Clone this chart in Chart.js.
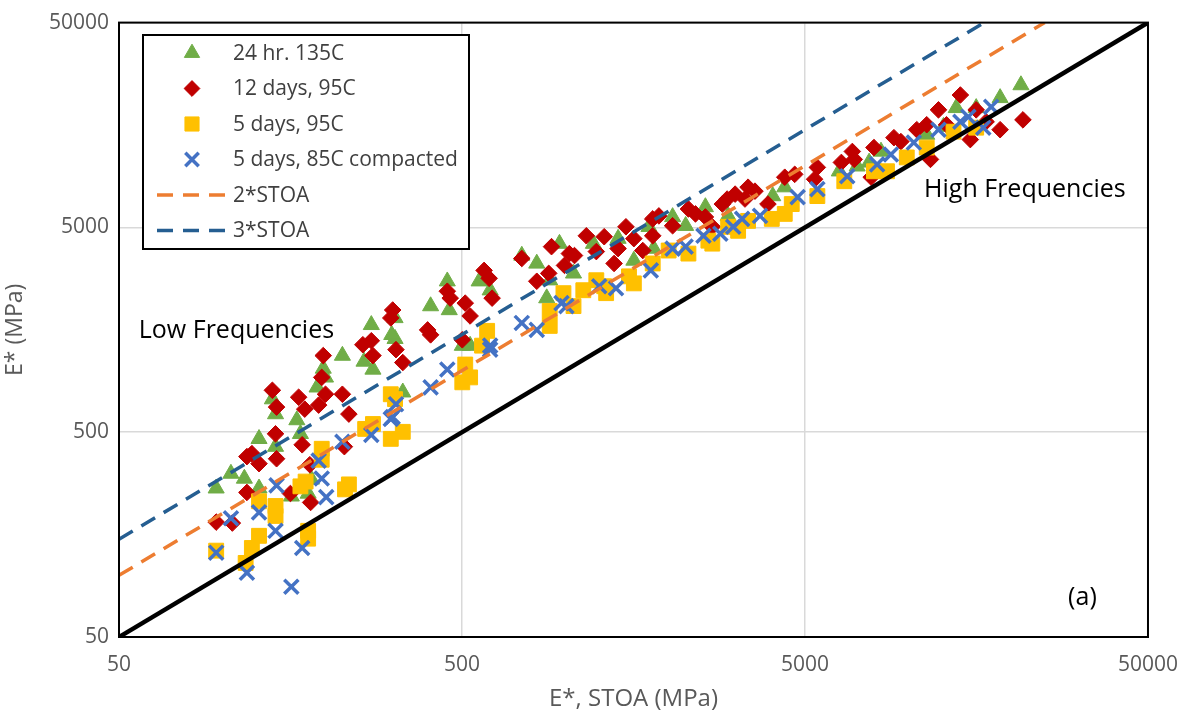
<!DOCTYPE html>
<html>
<head>
<meta charset="utf-8">
<script src="https://cdn.jsdelivr.net/npm/chart.js@4.4.1/dist/chart.umd.min.js"></script>
<style>
  html, body { margin: 0; padding: 0; background: #fff; }
</style>
</head>
<body>
<canvas id="chart" width="1193" height="715"></canvas>
<script>
// [E* STOA, E*] pairs (MPa)
const green135 = [[96,266],[106,314],[116,297],[128,464],[128,266],[140,725],[143,613],[143,425],[165,573],[169,491],[159,243],[178,251],[182,294],[189,828],[197,1023],[200,926],[224,1183],[259,1107],[275,1012],[272,1671],[319,1429],[319,1806],[312,1494],[336,783],[405,2064],[453,2729],[459,1975],[501,1323],[528,1323],[561,2729],[604,2467],[747,3643],[826,3333],[962,4165],[1057,2982],[901,2760],[883,2257],[1208,4165],[1426,4406],[1585,3445],[1754,5035],[1811,3940],[2244,5093],[2562,6288],[2056,5623],[2985,5689],[4027,7112],[4365,7859],[6295,9397],[7097,9931],[7691,10380],[8329,11740],[11320,14190],[12670,15510],[13800,19160],[15780,19160],[18530,21430],[21310,24770]];

const red12 = [[96,182],[107,180],[118,380],[122,393],[128,351],[118,254],[140,801],[144,663],[143,491],[144,371],[158,251],[167,741],[174,648],[171,434],[180,347],[181,227],[197,1183],[195,926],[200,766],[191,678],[224,766],[234,613],[227,425],[272,1398],[257,1337],[275,1183],[314,1975],[310,1806],[321,1265],[336,1094],[397,1579],[405,1494],[453,2440],[462,2257],[511,2134],[528,1847],[501,1413],[580,3083],[600,2820],[612,2257],[747,3525],[826,2729],[895,2982],[995,3261],[912,4027],[1028,3725],[1064,3643],[1152,4550],[1232,3810],[1299,4503],[1388,3333],[1426,3940],[1503,5035],[1585,4406],[1683,3855],[1799,5502],[1875,5689],[1799,4550],[2056,5093],[2286,6152],[2397,5820],[2562,5623],[2684,5035],[2871,6500],[2965,6877],[3128,7270],[3342,6877],[3574,7516],[3899,6500],[3412,7859],[4365,8790],[4667,9080],[5433,9817],[5333,8590],[6383,10380],[6871,11740],[6960,10740],[7798,8790],[7943,12270],[9083,13710],[9517,13120],[10590,15000],[11320,15860],[12250,18750],[14190,22150],[12930,15860],[15170,13420],[18530,15000],[21600,16750],[11610,10740],[16870,16400],[15780,18750]];

const yellow5 = [[96,132],[117,115],[122,136],[128,156],[128,230],[143,218],[143,195],[169,272],[175,287],[178,165],[178,151],[195,415],[195,367],[228,263],[234,278],[261,519],[275,548],[310,766],[319,725],[310,464],[336,502],[501,876],[511,1070],[528,926],[572,1323],[592,1563],[901,1953],[901,1652],[988,2387],[1057,2064],[1129,2467],[1232,2760],[1299,2580],[1316,2387],[1534,2884],[1585,2665],[1799,3333],[2002,3855],[2286,3725],[2614,4307],[2684,4165],[2985,5035],[3192,4814],[3412,5380],[4001,5502],[4365,5820],[4575,6500],[5433,7112],[6510,8403],[7943,9397],[8670,9397],[9902,10980],[11320,12270],[13550,14670],[15780,15340]];

const blue85 = [[96,129],[118,103],[159,88],[143,165],[128,203],[106,190],[171,136],[144,275],[195,297],[201,241],[191,363],[224,449],[272,485],[310,580],[321,685],[314,593],[405,828],[453,1012],[604,1323],[604,1265],[747,1708],[826,1579],[975,2133],[1008,2064],[1256,2580],[1406,2523],[1776,3083],[2056,3940],[2244,4027],[2529,4550],[2832,4655],[3088,5035],[3278,5502],[3697,5689],[4760,7032],[5433,7688],[6640,8884],[8115,10150],[8900,11350],[10380,12980],[12250,15000],[14190,16400],[14970,17330],[16550,15340],[17450,19380]];

// reference lines: equality, 2x and 3x STOA
const eqLine = [[50,50],[50000,50000]];
const twoStoa = [[50,100],[25000,50000]];
const threeStoa = [[50,150],[16667,50000]];

const tickVals = [50, 500, 5000, 50000];
const tickLabels = ['50', '500', '5000', '50000'];
const seriesNames = ['24 hr. 135C', '12 days, 95C', '5 days, 95C', '5 days, 85C compacted', '2*STOA', '3*STOA'];
const notes = [['Low Frequencies', 110, 1563], ['High Frequencies', 21880, 7600], ['(a)', 32200, 78]];

const FONT = "'Open Sans', sans-serif";
const pts = arr => arr.map(([x, y]) => ({x, y}));

const datasets = [
    {label: seriesNames[0], data: pts(green135), pointStyle: 'triangle', pointRadius: 9.3,
        backgroundColor: '#70AD47', borderColor: '#70AD47', borderWidth: 1, order: 6},
    {label: seriesNames[1], data: pts(red12), pointStyle: 'rectRot', pointRadius: 8.3,
        backgroundColor: '#C00000', borderColor: '#C00000', borderWidth: 1, order: 5},
    {label: seriesNames[2], data: pts(yellow5), pointStyle: 'rect', pointRadius: 10.5,
        backgroundColor: '#FFC000', borderColor: '#FFC000', borderWidth: 1, order: 4},
    {label: seriesNames[3], data: pts(blue85), pointStyle: 'crossRot', pointRadius: 10,
        backgroundColor: '#4472C4', borderColor: '#4472C4', borderWidth: 3.5, order: 3},
    {label: seriesNames[4], data: pts(twoStoa), showLine: true, pointRadius: 0,
        borderColor: '#ED7D31', borderWidth: 3.5, borderDash: [16, 10], order: 2},
    {label: seriesNames[5], data: pts(threeStoa), showLine: true, pointRadius: 0,
        borderColor: '#255E91', borderWidth: 3.5, borderDash: [16, 10], order: 1},
    {label: 'equality', data: pts(eqLine), showLine: true, pointRadius: 0,
        borderColor: '#000000', borderWidth: 4.5, order: 0}
];

// frame, text notes and the boxed legend
const extras = {
    id: 'extras',
    afterDatasetsDraw(chart) {
        const ctx = chart.ctx;
        const a = chart.chartArea;
        const sx = chart.scales.x, sy = chart.scales.y;
        ctx.save();
        ctx.strokeStyle = '#000';
        ctx.lineWidth = 2;
        ctx.strokeRect(a.left, a.top, a.right - a.left, a.bottom - a.top);

        ctx.fillStyle = '#000';
        ctx.font = '25px ' + FONT;
        ctx.textAlign = 'center';
        ctx.textBaseline = 'middle';
        notes.forEach(([t, x, y]) => ctx.fillText(t, sx.getPixelForValue(x), sy.getPixelForValue(y)));

        const lx = 143, ly = 35, lw = 326, lh = 214;
        ctx.fillStyle = '#fff';
        ctx.fillRect(lx, ly, lw, lh);
        ctx.lineWidth = 2;
        ctx.strokeStyle = '#000';
        ctx.strokeRect(lx, ly, lw, lh);

        ctx.textAlign = 'left';
        ctx.font = '21px ' + FONT;
        datasets.slice(0, 6).forEach((ds, i) => {
            const y = ly + 18 + i * 35.5;
            ctx.save();
            if (ds.showLine) {
                ctx.setLineDash([16, 10]);
                ctx.strokeStyle = ds.borderColor;
                ctx.lineWidth = ds.borderWidth;
                ctx.beginPath();
                ctx.moveTo(157, y);
                ctx.lineTo(226, y);
                ctx.stroke();
            } else {
                ctx.fillStyle = ds.backgroundColor;
                ctx.strokeStyle = ds.borderColor;
                ctx.lineWidth = ds.borderWidth;
                Chart.helpers.drawPoint(ctx, {pointStyle: ds.pointStyle, radius: ds.pointRadius * 0.95,
                    borderWidth: ds.borderWidth, rotation: 0}, 192, y);
            }
            ctx.restore();
            ctx.fillStyle = '#404040';
            ctx.fillText(ds.label, 233, y + 1);
        });
        ctx.restore();
    }
};

new Chart(document.getElementById('chart').getContext('2d'), {
    type: 'scatter',
    data: {datasets: datasets},
    options: {
        responsive: false,
        animation: false,
        layout: {padding: {top: 17, right: 37, left: 0, bottom: 0}},
        plugins: {legend: {display: false}, tooltip: {enabled: false}},
        scales: {
            x: {
                type: 'logarithmic', min: 50, max: 50000,
                afterBuildTicks: s => { s.ticks = tickVals.map(v => ({value: v})); },
                afterFit: s => { s.height = 78; },
                ticks: {
                    callback: v => tickLabels[tickVals.indexOf(v)],
                    color: '#595959', font: {family: FONT, size: 21}, padding: 15,
                    maxRotation: 0, autoSkip: false
                },
                grid: {color: '#d9d9d9', lineWidth: 1.5, drawTicks: false},
                border: {color: '#000', width: 2},
                title: {display: true, text: 'E*, STOA (MPa)', color: '#595959',
                    font: {family: FONT, size: 24}, padding: {top: 0, bottom: 1}}
            },
            y: {
                type: 'logarithmic', min: 50, max: 50000,
                afterBuildTicks: s => { s.ticks = tickVals.map(v => ({value: v})); },
                afterFit: s => { s.width = 119; },
                ticks: {
                    callback: v => tickLabels[tickVals.indexOf(v)],
                    color: '#595959', font: {family: FONT, size: 21}, padding: 10,
                    autoSkip: false
                },
                grid: {color: '#d9d9d9', lineWidth: 1.5, drawTicks: false},
                border: {color: '#000', width: 2},
                title: {display: true, text: 'E* (MPa)', color: '#595959',
                    font: {family: FONT, size: 23}, padding: {top: 2, bottom: 0}}
            }
        }
    },
    plugins: [extras]
});
</script>
</body>
</html>
